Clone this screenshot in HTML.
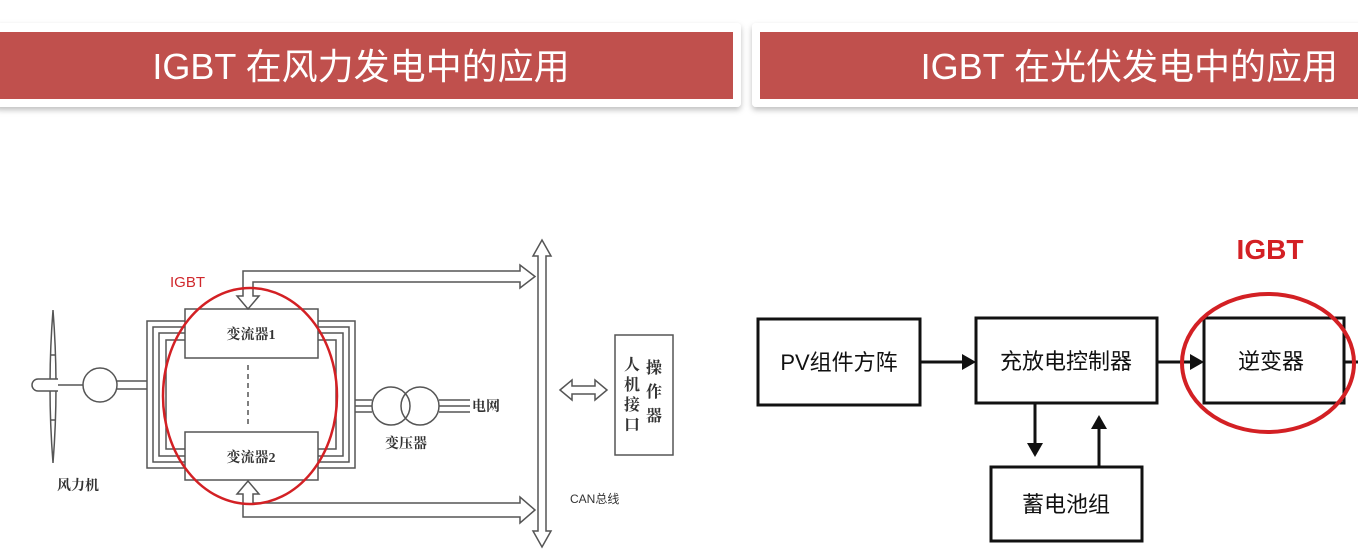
<!DOCTYPE html>
<html><head><meta charset="utf-8"><style>
body{margin:0;width:1358px;height:551px;background:#fff;overflow:hidden;font-family:"Liberation Sans","Noto Sans CJK SC",sans-serif}
</style></head><body>
<svg width="1358" height="551" viewBox="0 0 1358 551" xmlns="http://www.w3.org/2000/svg" font-family="Liberation Sans, Noto Sans CJK SC, sans-serif">
<defs>
<filter id="sh" x="-5%" y="-20%" width="110%" height="150%"><feDropShadow dx="0" dy="3" stdDeviation="3" flood-color="#000" flood-opacity="0.25"/></filter>
</defs>
<rect x="-5" y="23" width="746" height="84" rx="4" fill="#fff" filter="url(#sh)"/>
<rect x="752" y="23" width="620" height="84" rx="4" fill="#fff" filter="url(#sh)"/>
<rect x="0" y="32" width="733" height="67" fill="#c0504d"/>
<rect x="760" y="32" width="600" height="67" fill="#c0504d"/>
<text x="361" y="79" font-size="36" fill="#fff" text-anchor="middle">IGBT 在风力发电中的应用</text>
<text x="1338" y="79" font-size="36" fill="#fff" text-anchor="end">IGBT 在光伏发电中的应用</text>

<g stroke="#555" stroke-width="1.5" fill="none">
<path d="M53 310 Q47 387 53 463 Q59 387 53 310Z" fill="#fff"/>
<line x1="50" y1="355" x2="56" y2="355"/><line x1="50" y1="420" x2="56" y2="420"/>
<path d="M58 379 L38 379 A6 6 0 0 0 38 391 L58 391" fill="#fff"/>
<line x1="58" y1="385" x2="83" y2="385"/>
<circle cx="100" cy="385" r="17" fill="#fff"/>
<line x1="117" y1="381" x2="147" y2="381"/><line x1="117" y1="389" x2="147" y2="389"/>
<rect x="147" y="321" width="208" height="147"/>
<rect x="153" y="327" width="196" height="135"/>
<rect x="159" y="333" width="184" height="123"/>
<rect x="166" y="340" width="170" height="109"/>
<rect x="185" y="309" width="133" height="49" fill="#fff"/>
<rect x="185" y="432" width="133" height="48" fill="#fff"/>
<line x1="248" y1="365" x2="248" y2="428" stroke-dasharray="5 4"/>
<line x1="355" y1="400" x2="372" y2="400"/><line x1="355" y1="406" x2="372" y2="406"/><line x1="355" y1="412" x2="372" y2="412"/>
<circle cx="391" cy="406" r="19" fill="#fff"/>
<circle cx="420" cy="406" r="19"/>
<line x1="439" y1="400" x2="470" y2="400"/><line x1="439" y1="406" x2="470" y2="406"/><line x1="439" y1="412" x2="470" y2="412"/>
<path d="M542 240 L551 256 L546 256 L546 531 L551 531 L542 547 L533 531 L538 531 L538 256 L533 256Z" fill="#fff"/>
<path d="M243 296 L243 271 L520 271 L520 265 L535 276.5 L520 288 L520 282 L253 282 L253 296 L259 296 L248 309 L237 296Z" fill="#fff"/>
<path d="M243 494 L243 517 L520 517 L520 523 L535 510 L520 497 L520 503 L253 503 L253 494 L259 494 L248 481 L237 494Z" fill="#fff"/>
<path d="M560 390 L572 380 L572 386 L595 386 L595 380 L607 390 L595 400 L595 394 L572 394 L572 400Z" fill="#fff"/>
<rect x="615" y="335" width="58" height="120" fill="#fff"/>
</g>
<g font-size="14" font-weight="bold" fill="#333" font-family="Liberation Serif, Noto Serif CJK SC, serif">
<text x="251" y="339" text-anchor="middle">变流器1</text>
<text x="251" y="462" text-anchor="middle">变流器2</text>
<text x="472" y="411">电网</text>
<text x="406" y="448" text-anchor="middle">变压器</text>
<text x="78" y="490" text-anchor="middle">风力机</text>
<text x="632" y="370" text-anchor="middle" font-size="16">人</text>
<text x="632" y="390" text-anchor="middle" font-size="16">机</text>
<text x="632" y="410" text-anchor="middle" font-size="16">接</text>
<text x="632" y="430" text-anchor="middle" font-size="16">口</text>
<text x="654" y="373" text-anchor="middle" font-size="16">操</text>
<text x="654" y="397" text-anchor="middle" font-size="16">作</text>
<text x="654" y="421" text-anchor="middle" font-size="16">器</text>
</g>
<text x="570" y="503" font-size="12" fill="#333">CAN总线</text>
<text x="170" y="287" font-size="15" fill="#d0282c">IGBT</text>
<ellipse cx="250" cy="396" rx="87" ry="108" fill="none" stroke="#d32024" stroke-width="2.5"/>

<g stroke="#111" stroke-width="3" fill="none">
<rect x="758" y="319" width="162" height="86"/>
<rect x="976" y="318" width="181" height="85"/>
<rect x="1204" y="318" width="140" height="85"/>
<rect x="991" y="467" width="151" height="74"/>
<line x1="920" y1="362" x2="965" y2="362"/>
<line x1="1157" y1="362" x2="1192" y2="362"/>
<line x1="1344" y1="362" x2="1358" y2="362"/>
<line x1="1035" y1="403" x2="1035" y2="446"/>
<line x1="1099" y1="467" x2="1099" y2="427"/>
</g>
<g fill="#111">
<path d="M976 362 L962 354 L962 370Z"/>
<path d="M1204 362 L1190 354 L1190 370Z"/>
<path d="M1035 457 L1027 443 L1043 443Z"/>
<path d="M1099 415 L1091 429 L1107 429Z"/>
</g>
<g font-size="22" fill="#111" text-anchor="middle">
<text x="839" y="370">PV组件方阵</text>
<text x="1066" y="369">充放电控制器</text>
<text x="1271" y="369">逆变器</text>
<text x="1066" y="512">蓄电池组</text>
</g>
<text x="1270" y="259" font-size="28" font-weight="bold" fill="#d32024" text-anchor="middle">IGBT</text>
<ellipse cx="1268" cy="363" rx="86" ry="69" fill="none" stroke="#d32024" stroke-width="4"/>
</svg>
</body></html>
